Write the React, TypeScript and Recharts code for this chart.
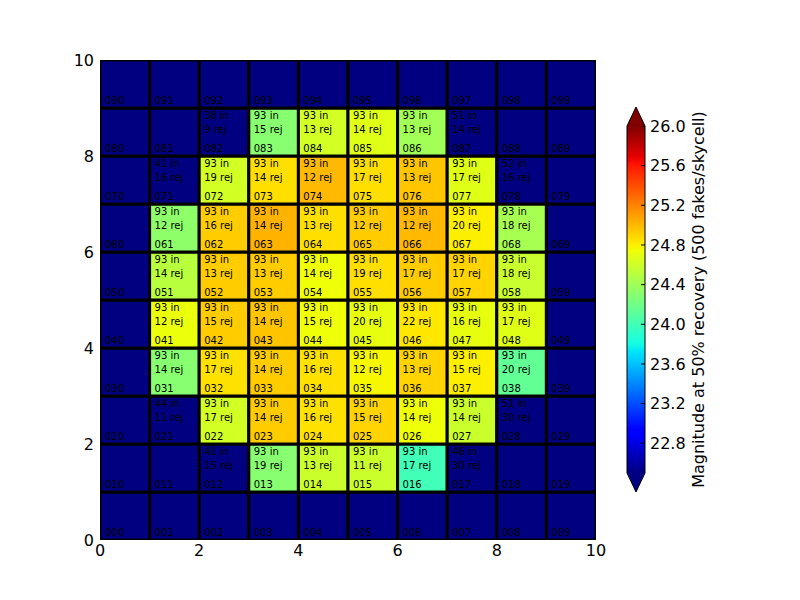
import { ComposedChart, XAxis, YAxis, ReferenceArea, ReferenceLine, Scatter } from "recharts";

const COLS = [0, 1, 2, 3, 4, 5, 6, 7, 8, 9];
const ROWS = [0, 1, 2, 3, 4, 5, 6, 7, 8, 9];
const AXIS_TICKS = [0, 2, 4, 6, 8, 10];
const CBAR_TICKS = [22.8, 23.2, 23.6, 24.0, 24.4, 24.8, 25.2, 25.6, 26.0];
const VMIN = 22.5;
const VMAX = 26.0;
const CBAR_LABEL = "Magnitude at 50% recovery (500 fakes/skycell)";

const n = null;
// rows from bottom (0) to top (9), columns left to right; null = below colour range
const MAG = [
  [n, n, n, n, n, n, n, n, n, n],
  [n, n, n, 24.3, 24.59, 24.59, 24.0, n, n, n],
  [n, n, 24.62, 24.93, 24.85, 24.9, 24.74, 24.59, n, n],
  [n, 24.3, 24.85, 24.93, 24.85, 24.77, 24.9, 24.8, 24.14, n],
  [n, 24.73, 24.93, 24.96, 24.74, 24.71, 24.83, 24.71, 24.68, n],
  [n, 24.51, 24.93, 24.93, 24.74, 24.86, 24.93, 24.9, 24.58, n],
  [n, 24.33, 24.93, 25.02, 24.86, 24.93, 25.0, 24.8, 24.43, n],
  [n, n, 24.62, 24.86, 25.0, 24.86, 24.95, 24.68, n, n],
  [n, n, n, 24.3, 24.62, 24.68, 24.41, n, n, n],
  [n, n, n, n, n, n, n, n, n, n],
];
const N_IN = [
  [n, n, n, n, n, n, n, n, n, n],
  [n, n, 41, 93, 93, 93, 93, 46, n, n],
  [n, 44, 93, 93, 93, 93, 93, 93, 51, n],
  [n, 93, 93, 93, 93, 93, 93, 93, 93, n],
  [n, 93, 93, 93, 93, 93, 93, 93, 93, n],
  [n, 93, 93, 93, 93, 93, 93, 93, 93, n],
  [n, 93, 93, 93, 93, 93, 93, 93, 93, n],
  [n, 41, 93, 93, 93, 93, 93, 93, 52, n],
  [n, n, 38, 93, 93, 93, 93, 51, n, n],
  [n, n, n, n, n, n, n, n, n, n],
];
const N_REJ = [
  [n, n, n, n, n, n, n, n, n, n],
  [n, n, 15, 19, 13, 11, 17, 30, n, n],
  [n, 11, 17, 14, 16, 15, 14, 14, 30, n],
  [n, 14, 17, 14, 16, 12, 13, 15, 20, n],
  [n, 12, 15, 14, 15, 20, 22, 16, 17, n],
  [n, 14, 13, 13, 14, 19, 17, 17, 18, n],
  [n, 12, 16, 14, 13, 12, 12, 20, 18, n],
  [n, 16, 19, 14, 12, 17, 13, 17, 16, n],
  [n, n, 9, 15, 13, 14, 13, 14, n, n],
  [n, n, n, n, n, n, n, n, n, n],
];

// matplotlib "jet" breakpoints
const JET_R = [[0, 0], [0.35, 0], [0.66, 1], [0.89, 1], [1, 0.5]];
const JET_G = [[0, 0], [0.125, 0], [0.375, 1], [0.64, 1], [0.91, 0], [1, 0]];
const JET_B = [[0, 0.5], [0.11, 1], [0.34, 1], [0.65, 0], [1, 0]];
const JET_STOPS = [0, 0.11, 0.125, 0.34, 0.35, 0.375, 0.64, 0.65, 0.66, 0.89, 0.91, 1];

function interp(pts: number[][], t: number) {
  for (let i = 1; i < pts.length; i++) {
    if (t <= pts[i][0]) {
      const [t0, v0] = pts[i - 1];
      const [t1, v1] = pts[i];
      return v0 + ((t - t0) / (t1 - t0)) * (v1 - v0);
    }
  }
  return pts[pts.length - 1][1];
}

function jet(t: number) {
  const c = Math.max(0, Math.min(1, t));
  const h = (v: number) => Math.round(v * 255).toString(16).padStart(2, "0");
  return "#" + h(interp(JET_R, c)) + h(interp(JET_G, c)) + h(interp(JET_B, c));
}

const UNDER = jet(0);
const OVER = jet(1);

const cells = ROWS.flatMap((r) =>
  COLS.map((c) => ({
    x: c + 0.5,
    y: r + 0.5,
    col: c,
    row: r,
    id: `0${r}${c}`,
    mag: MAG[r][c],
    nIn: N_IN[r][c],
    nRej: N_REJ[r][c],
  }))
);

// endpoints of the colour scale, so the colorbar chart has data for its axes
const cbarRange = [
  { x: 0.5, y: VMIN },
  { x: 0.5, y: VMAX },
];

// colorbar geometry (page px)
const CB_LEFT = 627;
const CB_TOP = 126;
const CB_W = 18;
const CB_H = 347;
const CB_EXT = 19;
const CB_PAD = 12;

function makeLabel(cell: any) {
  return (props: any) => {
    const vb = props.viewBox;
    if (!vb) return null;
    const tx = vb.x + vb.width * 0.1;
    return (
      <g fontSize={10} fill="#000">
        {cell.nIn != null && (
          <text x={tx} y={vb.y + vb.height * 0.235}>{`${cell.nIn} in`}</text>
        )}
        {cell.nRej != null && (
          <text x={tx} y={vb.y + vb.height * 0.527}>{`${cell.nRej} rej`}</text>
        )}
        <text x={tx} y={vb.y + vb.height * 0.91}>{cell.id}</text>
      </g>
    );
  };
}

export default function App() {
  const cx = CB_LEFT + CB_W / 2;
  const bottom = CB_TOP + CB_H;
  return (
    <div style={{ position: "absolute", left: 0, top: 0, width: 800, height: 600, background: "#fff", fontFamily: "DejaVu Sans" }}>
      <div style={{ position: "absolute", left: 0, top: 0 }}>
        <ComposedChart width={800} height={600} margin={{ top: 60, right: 204, bottom: 30, left: 60 }}>
          <XAxis
            type="number"
            dataKey="x"
            domain={[0, 10]}
            ticks={AXIS_TICKS}
            interval={0}
            height={30}
            tickLine={false}
            tickSize={0}
            tickMargin={5}
            axisLine={false}
            tick={{ fill: "#000", fontSize: 16 }}
          />
          <YAxis
            type="number"
            dataKey="y"
            domain={[0, 10]}
            ticks={AXIS_TICKS}
            interval={0}
            width={40}
            tickLine={false}
            tickSize={0}
            tickMargin={6}
            axisLine={false}
            tick={{ fill: "#000", fontSize: 16 }}
          />
          {cells.map((cell) => (
            <ReferenceArea
              key={cell.id}
              x1={cell.col}
              x2={cell.col + 1}
              y1={cell.row}
              y2={cell.row + 1}
              fill={cell.mag == null ? UNDER : jet((cell.mag - VMIN) / (VMAX - VMIN))}
              fillOpacity={1}
              stroke="#000"
              strokeWidth={3}
              ifOverflow="hidden"
              label={makeLabel(cell)}
            />
          ))}
          <Scatter data={cells} dataKey="y" shape={() => <g />} isAnimationActive={false} />
        </ComposedChart>
      </div>

      <div style={{ position: "absolute", left: CB_LEFT, top: CB_TOP - CB_PAD }}>
        <ComposedChart width={CB_W + 60} height={CB_H + 2 * CB_PAD} margin={{ top: CB_PAD, right: 0, bottom: CB_PAD, left: 0 }}>
          <XAxis type="number" dataKey="x" domain={[0, 1]} hide />
          <YAxis
            type="number"
            dataKey="y"
            orientation="right"
            domain={[VMIN, VMAX]}
            ticks={CBAR_TICKS}
            interval={0}
            width={60}
            tickLine={false}
            tickSize={0}
            tickMargin={5}
            axisLine={false}
            tick={{ fill: "#000", fontSize: 16 }}
            tickFormatter={(v: number) => v.toFixed(1)}
          />
          <ReferenceArea x1={0} x2={1} y1={VMIN} y2={VMAX} fill="url(#jetGradient)" fillOpacity={1} ifOverflow="extendDomain" />
          {CBAR_TICKS.map((t) => (
            <ReferenceLine key={t} segment={[{ x: 0.78, y: t }, { x: 1, y: t }]} stroke="#000" strokeWidth={1} />
          ))}
          <Scatter data={cbarRange} dataKey="y" shape={() => <g />} isAnimationActive={false} />
        </ComposedChart>
      </div>

      <svg width={800} height={600} style={{ position: "absolute", left: 0, top: 0, pointerEvents: "none" }}>
        <defs>
          <linearGradient id="jetGradient" x1="0" y1="1" x2="0" y2="0">
            {JET_STOPS.map((t) => (
              <stop key={t} offset={t} stopColor={jet(t)} />
            ))}
          </linearGradient>
        </defs>
        <polygon points={`${CB_LEFT},${CB_TOP} ${cx},${CB_TOP - CB_EXT} ${CB_LEFT + CB_W},${CB_TOP}`} fill={OVER} />
        <polygon points={`${CB_LEFT},${bottom} ${cx},${bottom + CB_EXT} ${CB_LEFT + CB_W},${bottom}`} fill={UNDER} />
        <polygon
          points={`${CB_LEFT},${CB_TOP} ${cx},${CB_TOP - CB_EXT} ${CB_LEFT + CB_W},${CB_TOP} ${CB_LEFT + CB_W},${bottom} ${cx},${bottom + CB_EXT} ${CB_LEFT},${bottom}`}
          fill="none"
          stroke="#000"
          strokeWidth={1}
        />
        <text
          x={698}
          y={CB_TOP + CB_H / 2}
          transform={`rotate(-90, 698, ${CB_TOP + CB_H / 2})`}
          textAnchor="middle"
          dominantBaseline="central"
          fontSize={16}
          fill="#000"
        >
          {CBAR_LABEL}
        </text>
      </svg>
    </div>
  );
}
